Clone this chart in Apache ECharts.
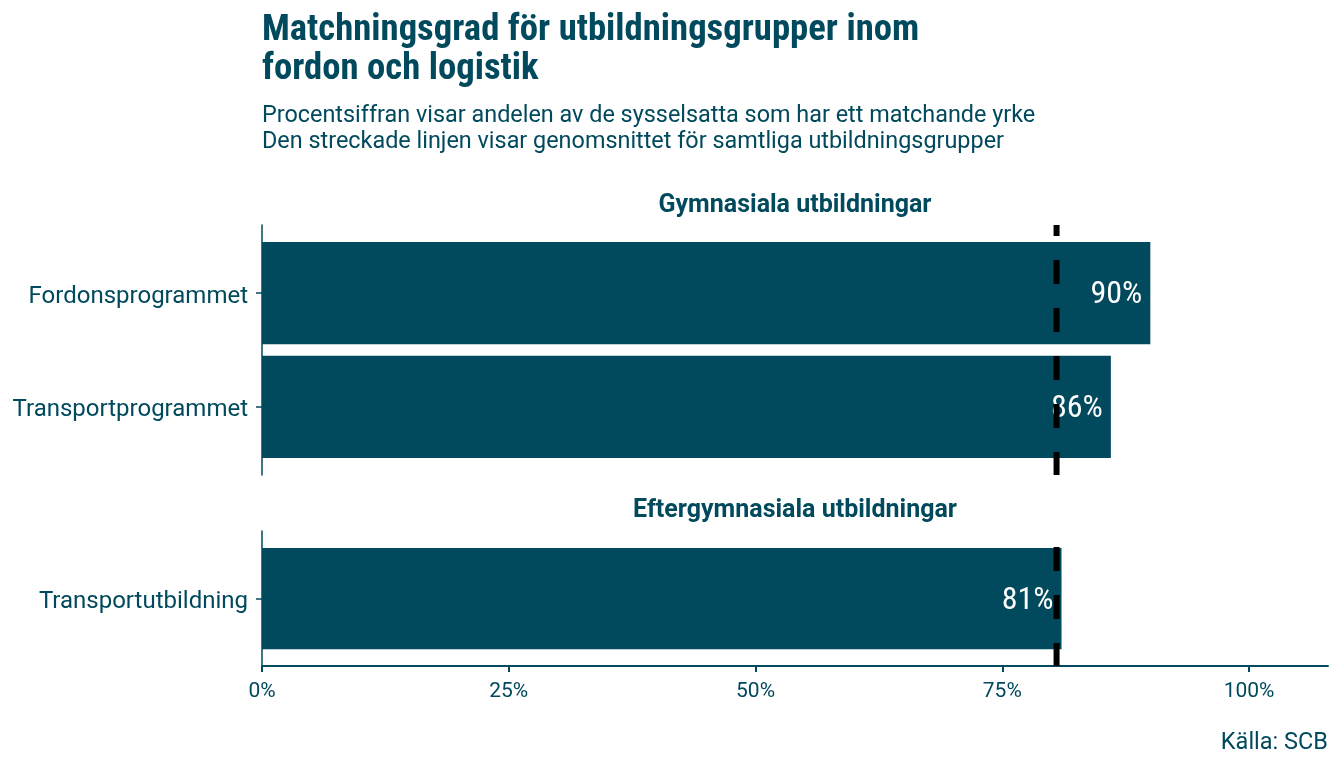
<!DOCTYPE html>
<html>
<head>
<meta charset="utf-8">
<script src="https://cdn.jsdelivr.net/npm/echarts@6/dist/echarts.min.js"></script>
<style>
  html, body { margin: 0; padding: 0; background: #fff; }
  #chart { width: 1344px; height: 768px; }
</style>
</head>
<body>
<div id="chart"></div>
<script>
// data
var gymNames = ['Fordonsprogrammet', 'Transportprogrammet'];
var gymValues = [90, 86];
var eftNames = ['Transportutbildning'];
var eftValues = [81];
var average = 80.5; // streckade linjen
var xTicks = [0, 25, 50, 75, 100];

var teal = '#01495c';
var condensed = "'Roboto Condensed', 'Liberation Sans Narrow', 'DejaVu Sans Condensed', Roboto, sans-serif";
var base = "Roboto, 'Noto Sans', sans-serif";

function toRows(vals) {
  return vals.map(function (v, i) { return [v, i]; });
}

// one bar + its white label, placed through the axes
function barItem(params, api) {
  var val = api.value(0), idx = api.value(1);
  var start = api.coord([0, idx]);
  var end = api.coord([val, idx]);
  var h = api.size([0, 0.9])[1];
  return {
    type: 'group',
    children: [
      { type: 'rect', shape: { x: start[0], y: start[1] - h / 2, width: end[0] - start[0], height: h }, style: { fill: teal } },
      { type: 'text', style: { text: Math.round(val) + '%', x: end[0] - 8, y: end[1] + 2, align: 'right', verticalAlign: 'middle', fill: '#fff', fontSize: 32, fontFamily: condensed } }
    ]
  };
}

function yAxisFor(names, gridIndex) {
  var idx = names.map(function (n, i) { return i; });
  return {
    type: 'value', gridIndex: gridIndex, inverse: true,
    min: -0.6, max: names.length - 0.4,
    splitLine: { show: false },
    axisLine: { show: true, lineStyle: { color: teal, width: 1.5 } },
    axisTick: { show: true, length: 6, customValues: idx, lineStyle: { color: teal, width: 1.5 } },
    axisLabel: { customValues: idx, margin: 14,
      formatter: function (v) { return '{n|' + (names[Math.round(v)] || '') + '}'; },
      rich: { n: { color: teal, fontSize: 24, fontFamily: base, padding: [7, 0, 0, 0] } } }
  };
}

function xAxisFor(gridIndex, visible) {
  return {
    type: 'value', gridIndex: gridIndex, min: 0, max: 108,
    splitLine: { show: false },
    axisLine: { show: visible, onZero: false, lineStyle: { color: teal, width: 2 } },
    axisTick: { show: visible, length: 6, customValues: xTicks, lineStyle: { color: teal, width: 2 } },
    axisLabel: { show: visible, customValues: xTicks, margin: 15, color: teal, fontSize: 21, fontFamily: base,
      formatter: function (v) { return v + '%'; } }
  };
}

function avgLine(gridIndex, names, offset) {
  return {
    type: 'line', xAxisIndex: gridIndex, yAxisIndex: gridIndex, symbol: 'none', silent: true, z: 5,
    lineStyle: { color: '#000', width: 6, type: [24, 24], dashOffset: offset },
    data: [[average, -0.6], [average, names.length - 0.4]]
  };
}

var chart = echarts.init(document.getElementById('chart'));
chart.setOption({
  animation: false,
  backgroundColor: '#fff',
  title: [
    { text: 'Matchningsgrad för utbildningsgrupper inom\nfordon och logistik', left: 262, top: 11, padding: 0,
      textStyle: { color: teal, fontSize: 36.7, fontWeight: 'bold', fontFamily: condensed, lineHeight: 39 } },
    { text: 'Procentsiffran visar andelen av de sysselsatta som har ett matchande yrke\nDen streckade linjen visar genomsnittet för samtliga utbildningsgrupper',
      left: 262, top: 103, padding: 0, textStyle: { color: teal, fontSize: 23.4, fontWeight: 'normal', fontFamily: base, lineHeight: 26 } },
    { text: 'Gymnasiala utbildningar', left: 795, top: 193, padding: 0, textAlign: 'center',
      textStyle: { color: teal, fontSize: 25, fontWeight: 'bold', fontFamily: base } },
    { text: 'Eftergymnasiala utbildningar', left: 795, top: 498, padding: 0, textAlign: 'center',
      textStyle: { color: teal, fontSize: 25, fontWeight: 'bold', fontFamily: base } },
    { text: 'Källa: SCB', right: 16, top: 731, padding: 0,
      textStyle: { color: teal, fontSize: 23.5, fontWeight: 'normal', fontFamily: base } }
  ],
  grid: [
    { left: 262, right: 16, top: 225, height: 250 },
    { left: 262, right: 16, top: 531, height: 135 }
  ],
  xAxis: [xAxisFor(0, false), xAxisFor(1, true)],
  yAxis: [yAxisFor(gymNames, 0), yAxisFor(eftNames, 1)],
  series: [
    { type: 'custom', xAxisIndex: 0, yAxisIndex: 0, renderItem: barItem, encode: { x: 0, y: 1 }, data: toRows(gymValues), z: 2 },
    { type: 'custom', xAxisIndex: 1, yAxisIndex: 1, renderItem: barItem, encode: { x: 0, y: 1 }, data: toRows(eftValues), z: 2 },
    avgLine(0, gymNames, 13),
    avgLine(1, eftNames, 32)
  ]
});
</script>
</body>
</html>
